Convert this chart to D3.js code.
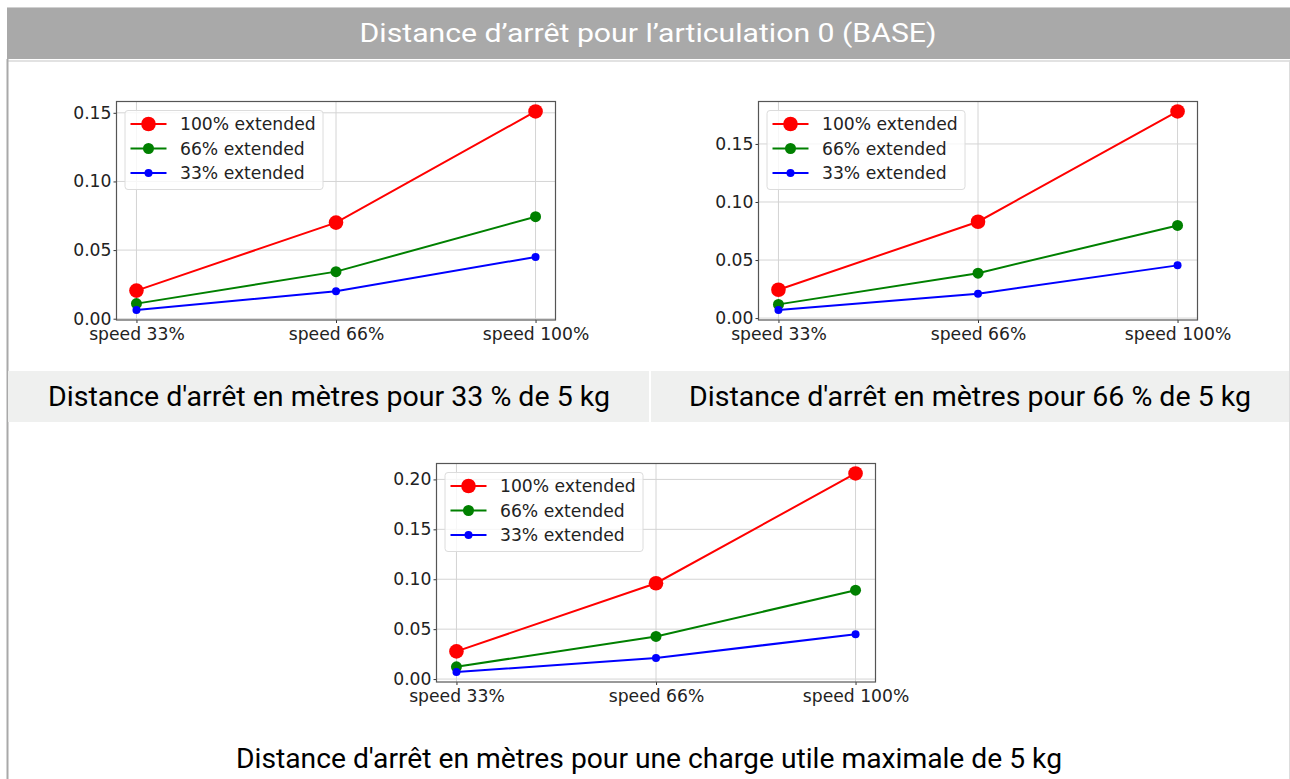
<html>
<head>
  <meta charset="utf-8">
  <title>Distance d'arrêt - articulation 0</title>
  <script src="https://d3js.org/d3.v7.min.js"></script>
  <style>
    body { margin: 0; background: #fff; }
    text { font-family: "DejaVu Sans", sans-serif; }
  </style>
</head>
<body>
<div id="my_dataviz"></div>
<script>

// categories / legend
var categories = ["speed 33%", "speed 66%", "speed 100%"];
var seriesNames = ["100% extended", "66% extended", "33% extended"];

// chart 1 : 33 % de 5 kg
var c1_ext100 = [0.0205, 0.070, 0.151];
var c1_ext66  = [0.011, 0.0343, 0.0743];
var c1_ext33  = [0.0063, 0.020, 0.045];
var c1_ticks  = [0, 0.05, 0.10, 0.15];

// chart 2 : 66 % de 5 kg
var c2_ext100 = [0.0244, 0.083, 0.178];
var c2_ext66  = [0.0118, 0.0387, 0.0798];
var c2_ext33  = [0.0069, 0.021, 0.0454];
var c2_ticks  = [0, 0.05, 0.10, 0.15];

// chart 3 : charge utile maximale
var c3_ext100 = [0.0277, 0.096, 0.206];
var c3_ext66  = [0.0123, 0.0427, 0.089];
var c3_ext33  = [0.007, 0.021, 0.045];
var c3_ticks  = [0, 0.05, 0.10, 0.15, 0.20];

var mainTitle = "Distance d\u2019arrêt pour l\u2019articulation 0 (BASE)";
var captions = ["Distance d'arrêt en mètres pour 33 % de 5 kg",
                "Distance d'arrêt en mètres pour 66 % de 5 kg",
                "Distance d'arrêt en mètres pour une charge utile maximale de 5 kg"];

var colors = ["#ff0000", "#008000", "#0000ff"];
var radius = [7.3, 5.5, 4];

var width = 1290, height = 779;

var svg = d3.select("#my_dataviz")
  .append("svg")
    .attr("width", width)
    .attr("height", height);

// page frame
svg.append("line").attr("x1", 7).attr("x2", 1290).attr("y1", 7.5).attr("y2", 7.5)
  .attr("stroke", "#d0d0d0").attr("stroke-width", 1);
svg.append("rect").attr("x", 7).attr("y", 8).attr("width", 1283).attr("height", 51)
  .attr("fill", "#a9a9a9");
svg.append("line").attr("x1", 7).attr("x2", 1290).attr("y1", 61).attr("y2", 61)
  .attr("stroke", "#d8d8d8").attr("stroke-width", 1.5);
svg.append("line").attr("x1", 7.5).attr("x2", 7.5).attr("y1", 59).attr("y2", 779)
  .attr("stroke", "#a9a9a9").attr("stroke-width", 2);
svg.append("line").attr("x1", 1289.5).attr("x2", 1289.5).attr("y1", 60).attr("y2", 779)
  .attr("stroke", "#dddddd").attr("stroke-width", 1);

svg.append("text")
  .attr("x", 648).attr("y", 42)
  .attr("text-anchor", "middle")
  .attr("fill", "#ffffff")
  .style("font-family", "Roboto, sans-serif")
  .style("font-size", "26px")
  .attr("textLength", 577).attr("lengthAdjust", "spacingAndGlyphs")
  .text(mainTitle);

// caption boxes
svg.append("rect").attr("x", 8).attr("y", 371).attr("width", 641).attr("height", 51).attr("fill", "#eff0ef");
svg.append("rect").attr("x", 651).attr("y", 371).attr("width", 638).attr("height", 51).attr("fill", "#eff0ef");

function caption(txt, cx, y, len) {
  svg.append("text")
    .attr("x", cx).attr("y", y)
    .attr("text-anchor", "middle")
    .attr("fill", "#000")
    .style("font-family", "Roboto, sans-serif")
    .style("font-size", "27px")
    .attr("textLength", len).attr("lengthAdjust", "spacingAndGlyphs")
    .text(txt);
}
caption(captions[0], 329, 406, 562);
caption(captions[1], 970, 406, 562);
caption(captions[2], 649, 768, 826);

function drawChart(left, top, values, ticks) {
  var w = 439, h = 218.5;
  var g = svg.append("g").attr("transform", "translate(" + left + "," + top + ")");

  var all = [].concat(values[0], values[1], values[2]);
  var lo = d3.min(all), hi = d3.max(all), pad = (hi - lo) * 0.05;

  var x = d3.scalePoint().domain(categories).range([0, w]).padding(0.1);
  var y = d3.scaleLinear().domain([lo - pad, hi + pad]).range([h, 0]);

  // grid
  g.selectAll(".hgrid").data(ticks).enter().append("line")
    .attr("x1", 0).attr("x2", w)
    .attr("y1", function(d){ return y(d); }).attr("y2", function(d){ return y(d); })
    .attr("stroke", "#d4d4d4").attr("stroke-width", 1);
  g.selectAll(".vgrid").data(categories).enter().append("line")
    .attr("y1", 0).attr("y2", h)
    .attr("x1", function(d){ return x(d); }).attr("x2", function(d){ return x(d); })
    .attr("stroke", "#d4d4d4").attr("stroke-width", 1);

  // axes
  var yAxis = g.append("g")
    .call(d3.axisLeft(y).tickValues(ticks).tickFormat(d3.format(".2f")).tickSize(3).tickPadding(2));
  var xAxis = g.append("g").attr("transform", "translate(0," + h + ")")
    .call(d3.axisBottom(x).tickSize(3).tickPadding(5));
  [xAxis, yAxis].forEach(function(a){
    a.select(".domain").remove();
    a.selectAll("line").attr("stroke", "#333");
    a.selectAll("text").style("font-family", "DejaVu Sans").style("font-size", "17.2px").attr("fill", "#222");
  });

  g.append("rect").attr("width", w).attr("height", h)
    .attr("fill", "none").attr("stroke", "#555").attr("stroke-width", 1.2);

  // series
  var line = d3.line()
    .x(function(d, i){ return x(categories[i]); })
    .y(function(d){ return y(d); });

  values.forEach(function(vals, k) {
    g.append("path").datum(vals)
      .attr("d", line)
      .attr("fill", "none")
      .attr("stroke", colors[k])
      .attr("stroke-width", 2);
    g.selectAll(".pt" + k).data(vals).enter().append("circle")
      .attr("cx", function(d, i){ return x(categories[i]); })
      .attr("cy", function(d){ return y(d); })
      .attr("r", radius[k])
      .attr("fill", colors[k]);
  });

  // legend
  var leg = g.append("g").attr("transform", "translate(8.5,9)");
  leg.append("rect").attr("width", 198).attr("height", 79).attr("rx", 3)
    .attr("fill", "#fff").attr("fill-opacity", 0.8)
    .attr("stroke", "#dcdcdc").attr("stroke-width", 1);
  seriesNames.forEach(function(name, k) {
    var yy = 13.5 + k * 24.5;
    leg.append("line").attr("x1", 5.5).attr("x2", 41.5).attr("y1", yy).attr("y2", yy)
      .attr("stroke", colors[k]).attr("stroke-width", 2);
    leg.append("circle").attr("cx", 23.5).attr("cy", yy).attr("r", radius[k]).attr("fill", colors[k]);
    leg.append("text").attr("x", 55).attr("y", yy).attr("dy", "0.35em")
      .style("font-size", "17.2px").attr("fill", "#222")
      .text(name);
  });
}

drawChart(116.5, 101.5, [c1_ext100, c1_ext66, c1_ext33], c1_ticks);
drawChart(758.5, 101.5, [c2_ext100, c2_ext66, c2_ext33], c2_ticks);
drawChart(436.5, 463.5, [c3_ext100, c3_ext66, c3_ext33], c3_ticks);

</script>
</body>
</html>
